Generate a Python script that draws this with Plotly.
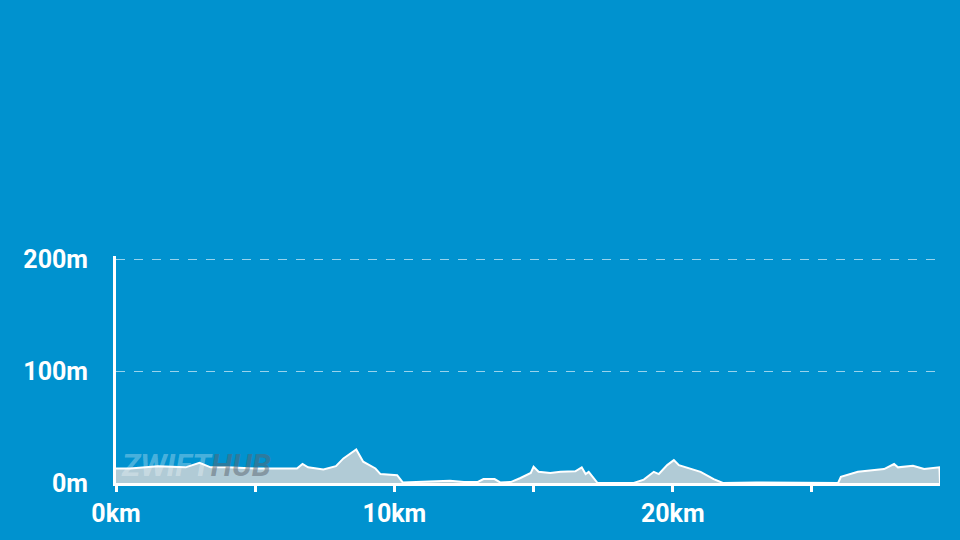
import plotly.graph_objects as go

dist_km = [0, 0.5, 1.5, 2.5, 3.0, 3.4, 4.0, 5.0, 6.0, 6.5, 6.7, 6.9, 7.45, 7.9, 8.17, 8.63, 8.88,
           9.32, 9.5, 10.1, 10.3, 11.0, 12.0, 12.5, 13.0, 13.2, 13.6, 13.8, 14.2, 14.53, 14.9, 15.0,
           15.18, 15.6, 15.97, 16.5, 16.73, 16.87, 16.98, 17.3, 18.6, 18.96, 19.32, 19.5, 19.8, 20.04,
           20.22, 21.0, 21.47, 21.8, 23.0, 25.94, 26.04, 26.65, 27.59, 27.95, 28.09, 28.63, 29.03,
           29.58, 29.6]
elev_m = [13, 13, 15, 14, 18, 14, 14, 13, 13, 13, 17, 14, 12, 15, 22, 30, 19,
          13, 8, 7, 0.5, 1, 2, 1, 1, 3.5, 3.5, 0.5, 1, 4.5, 9, 14.5,
          10, 9, 10, 10.5, 14, 8, 10, 0, 0, 3, 10, 8, 16, 20.5,
          16, 10, 3.5, 0, 0.5, 0, 5.6, 10, 12.5, 17, 14, 15.5, 12.5,
          14, 0]

x_tick_vals = [0, 5, 10, 15, 20, 25]
x_tick_text = ["0km", "", "10km", "", "20km", ""]
y_tick_vals = [0, 100, 200]
y_tick_text = ["0m", "100m", "200m"]

BG = "#0092cf"
fig = go.Figure()
fig.add_trace(go.Scatter(
    x=dist_km, y=elev_m, mode="lines", fill="tozeroy",
    line=dict(color="white", width=2), fillcolor="#b1cbd6",
    hoverinfo="skip", showlegend=False,
))

fig.add_annotation(
    x=0.1, y=16, xref="x", yref="y", xanchor="left", yanchor="middle", showarrow=False,
    text="<b><i><span style='color:rgba(255,255,255,0.3)'>ZWIFT</span>"
         "<span style='color:rgba(90,100,110,0.5)'>HUB</span></i></b>",
    font=dict(family="Roboto", size=31),
)

fig.update_layout(
    width=960, height=540,
    paper_bgcolor=BG, plot_bgcolor=BG,
    margin=dict(l=116, r=20, t=256, b=57),
    font=dict(family="Roboto", color="white", size=25),
    xaxis=dict(
        range=[0, 29.6], tickvals=x_tick_vals, ticktext=x_tick_text,
        showgrid=False, zeroline=False, showline=True, linecolor="white", linewidth=3,
        ticks="outside", ticklen=6, tickwidth=3, tickcolor="white",
        tickfont=dict(family="Roboto", size=25, color="white", weight="bold"),
    ),
    yaxis=dict(
        range=[0, 203], tickvals=y_tick_vals, ticktext=y_tick_text,
        showgrid=True, gridcolor="rgba(255,255,255,0.6)", griddash="dash", gridwidth=1,
        zeroline=False, showline=True, linecolor="white", linewidth=3,
        ticks="", ticklabelstandoff=20,
        tickfont=dict(family="Roboto", size=25, color="white", weight="bold"),
    ),
)

fig.write_html("out.html", config={"displayModeBar": False},
               post_script="document.body.style.margin='0';document.body.style.overflow='hidden';")
